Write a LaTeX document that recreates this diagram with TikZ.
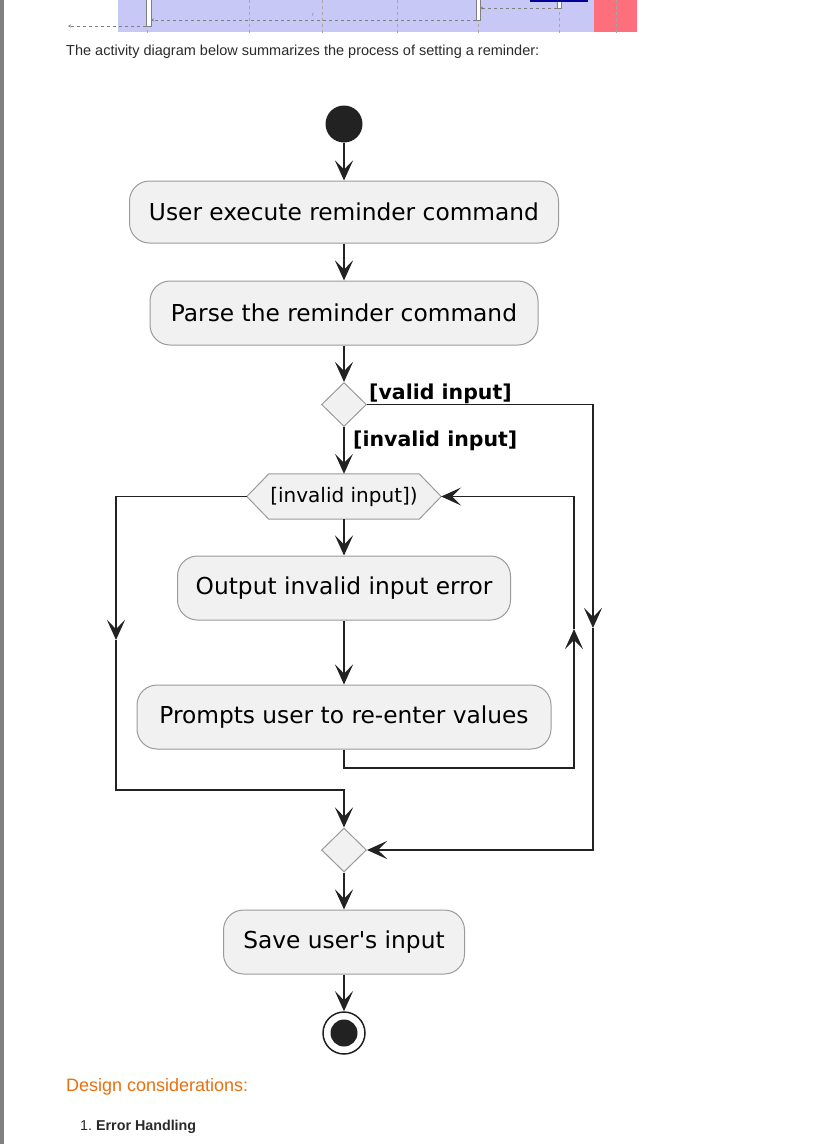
\documentclass[tikz,border=0pt]{standalone}
\usepackage{fontspec}
\setmainfont{DejaVu Sans}
\newfontfamily\umlfont{DejaVu Sans}
\newfontfamily\pagefont{Liberation Sans}
\usetikzlibrary{arrows.meta,shapes.geometric,backgrounds}
\definecolor{boxfill}{HTML}{F1F1F1}
\definecolor{boxline}{HTML}{9A9A9A}
\definecolor{ink}{HTML}{222222}
\definecolor{lav}{HTML}{C8C8F6}
\definecolor{pinkred}{HTML}{FE6F7E}
\definecolor{orangehd}{HTML}{E8700F}
\definecolor{sidebar}{HTML}{808080}
\definecolor{bodytext}{HTML}{2A2A2A}
\begin{document}
\begin{tikzpicture}[x=1pt,y=-1pt,
  act/.style={draw=boxline, fill=boxfill, rounded corners=20pt, line width=1pt, inner sep=0pt, font=\umlfont\fontsize{23.3}{27}\selectfont, text=black},
  dia/.style={diamond, draw=boxline, fill=boxfill, line width=1pt, inner sep=0pt, minimum width=45pt, minimum height=44pt},
  flow/.style={draw=ink, line width=1.5pt, -{Stealth[length=20pt,width=18pt,inset=9pt]}},
  guard/.style={font=\umlfont\bfseries\fontsize{20.5}{24}\selectfont, inner sep=0pt, anchor=base west},
  lifeline/.style={draw=gray!70, dashed, line width=0.6pt},
  seqmsg/.style={draw=gray, dashed, line width=0.5pt, -{Stealth[length=3pt,width=3pt]}},
  actbox/.style={draw=gray, fill=white, line width=0.5pt},
  pagetext/.style={anchor=base west, inner sep=0pt}
]
\useasboundingbox (0,0) rectangle (812,1144);
% page chrome
\fill[sidebar] (0,0) rectangle (4,1144);
% cropped sequence diagram at top
\fill[lav] (118,0) rectangle (594,31.5);
\fill[pinkred] (594,0) rectangle (637,31.5);
\foreach \x in {147,249,322,397,478,559,616} \draw[lifeline] (\x,0) -- (\x,33);
\draw[actbox] (146,-1) rectangle (151,26);
\draw[actbox] (476,-1) rectangle (480,20);
\draw[actbox] (557,-1) rectangle (561,8);
\fill[blue!60!black] (530,-1) rectangle (588,1.5);
\draw[seqmsg] (476,20) -- (151,20);
\draw[seqmsg] (557,8) -- (480,8);
\draw[seqmsg] (146,26) -- (68,26);
\node[font=\fontsize{5}{5}\selectfont, text=gray, inner sep=0pt] (rlab) at (313,15) {r};
% intro text
\node[pagetext, font=\pagefont\fontsize{14.5}{17}\selectfont, text=bodytext] (intro) at (66,55) {The activity diagram below summarizes the process of setting a reminder:};
% activity diagram
\node[circle, fill=ink, minimum size=37pt, inner sep=0pt] (start) at (344,124) {};
\node[act, minimum width=429pt, minimum height=62pt] (b1) at (344,212) {User execute reminder command};
\node[act, minimum width=388pt, minimum height=64pt] (b2) at (344,313) {Parse the reminder command};
\node[dia] (d1) at (344,404.5) {};
\node[inner sep=0pt, minimum width=194pt, minimum height=45pt, font=\umlfont\fontsize{20}{24}\selectfont] (hx) at (344,496.5) {[invalid input])};
\begin{scope}[on background layer]
\draw[draw=boxline, fill=boxfill, line width=1pt] (hx.west) -- ([xshift=22pt]hx.north west) -- ([xshift=-22pt]hx.north east) -- (hx.east) -- ([xshift=-22pt]hx.south east) -- ([xshift=22pt]hx.south west) -- cycle;
\end{scope}
\node[act, minimum width=333pt, minimum height=64pt] (b3) at (344,588) {Output invalid input error};
\node[act, minimum width=414pt, minimum height=64pt] (b4) at (344,717) {Prompts user to re-enter values};
\node[dia] (d2) at (344,850) {};
\node[act, minimum width=241pt, minimum height=64pt] (b5) at (344,942) {Save user's input};
\node[circle, draw=ink, line width=1.5pt, fill=white, minimum size=42pt, inner sep=0pt] (stop) at (344,1033) {};
\node[circle, fill=ink, minimum size=27pt, inner sep=0pt] (stopdot) at (stop) {};
% guards
\node[guard] (gv) at (369,399) {[valid input]};
\node[guard] (gi) at (353,446) {[invalid input]};
% connectors
\draw[flow] (start) -- (b1);
\draw[flow] (b1) -- (b2);
\draw[flow] (b2) -- (d1);
\draw[flow] (d1.south) -- (hx.north);
\draw[flow] (hx.south) -- (b3.north);
\draw[flow] (b3) -- (b4);
\coordinate (lb1) at (344,768);
\coordinate (up) at (574,629);
\draw[flow] (b4.south) -- (lb1) -| (up);
\draw[flow] (up) |- (hx.east);
\coordinate (lt) at (116,640);
\coordinate (lj) at (344,790);
\draw[flow] (hx.west) -| (lt);
\draw[flow] (lt) |- (lj) -- (d2.north);
\coordinate (rv) at (593,628);
\draw[flow] (d1.east) -| (rv);
\draw[flow] (rv) |- (d2.east);
\draw[flow] (d2) -- (b5);
\draw[flow] (b5) -- (stop);
% following text
\node[pagetext, font=\pagefont\fontsize{18}{20}\selectfont, text=orangehd] (design) at (66,1091) {Design considerations:};
\node[pagetext, font=\pagefont\fontsize{14.3}{16}\selectfont, text=bodytext] (item) at (80,1130) {1.\ \textbf{Error Handling}};
\end{tikzpicture}
\end{document}
